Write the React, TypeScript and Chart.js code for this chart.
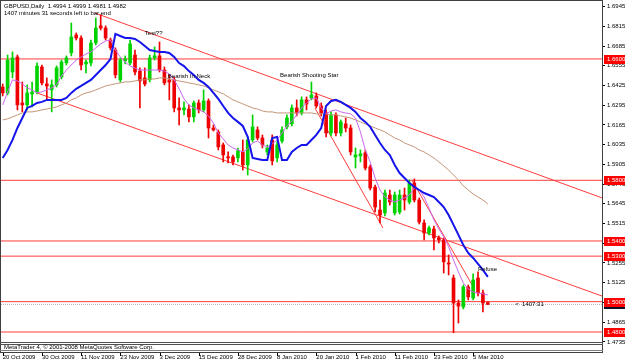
import React, { useEffect, useRef } from 'react';
import { Chart, registerables } from 'chart.js';
Chart.register(...registerables);

// ---- data (daily GBPUSD candles, one per bar index) ----
const opens = [
  1.6415, 1.6376, 1.6514, 1.6613, 1.6310, 1.6297, 1.6369, 1.6382, 1.6547, 1.6435,
  1.6396, 1.6429, 1.6481, 1.6574, 1.6640, 1.6758, 1.6738, 1.6567, 1.6574, 1.6705,
  1.6818, 1.6804, 1.6725, 1.6659, 1.6462, 1.6587, 1.6574, 1.6626, 1.6521, 1.6475,
  1.6462, 1.6607, 1.6620, 1.6527, 1.6462, 1.6462, 1.6277, 1.6264, 1.6270, 1.6218,
  1.6310, 1.6264, 1.6323, 1.6145, 1.6119, 1.6033, 1.5954, 1.5954, 1.5948, 1.5987,
  1.5901, 1.6066, 1.6132, 1.6079, 1.5987, 1.6066, 1.5948, 1.6059, 1.6152, 1.6172,
  1.6277, 1.6244, 1.6330, 1.6343, 1.6356, 1.6290, 1.6244, 1.6112, 1.6231, 1.6112,
  1.6172, 1.6145, 1.5954, 1.5961, 1.5981, 1.5888, 1.5755, 1.5604, 1.5585, 1.5703,
  1.5585, 1.5591, 1.5703, 1.5657, 1.5782, 1.5670, 1.5519, 1.5453, 1.5479, 1.5420,
  1.5407, 1.5255, 1.5156, 1.4991, 1.4965, 1.5097, 1.5024, 1.5156, 1.5057, 1.4994,
];
const highs = [
  1.6435, 1.6626, 1.6646, 1.6626, 1.6448, 1.6429, 1.6448, 1.6574, 1.6560, 1.6475,
  1.6462, 1.6554, 1.6593, 1.6620, 1.6837, 1.6771, 1.6752, 1.6593, 1.6725, 1.6870,
  1.6890, 1.6818, 1.6738, 1.6673, 1.6607, 1.6620, 1.6725, 1.6659, 1.6541, 1.6541,
  1.6626, 1.6679, 1.6712, 1.6547, 1.6495, 1.6481, 1.6343, 1.6317, 1.6297, 1.6323,
  1.6330, 1.6396, 1.6337, 1.6165, 1.6132, 1.6046, 1.5987, 1.5967, 1.6013, 1.6066,
  1.6086, 1.6231, 1.6152, 1.6099, 1.6033, 1.6099, 1.6053, 1.6152, 1.6231, 1.6297,
  1.6330, 1.6350, 1.6350, 1.6448, 1.6376, 1.6310, 1.6264, 1.6251, 1.6244, 1.6198,
  1.6211, 1.6165, 1.6013, 1.6000, 1.6000, 1.5901, 1.5769, 1.5670, 1.5736, 1.5736,
  1.5723, 1.5736, 1.5749, 1.5802, 1.5809, 1.5684, 1.5539, 1.5499, 1.5499, 1.5433,
  1.5420, 1.5308, 1.5176, 1.5011, 1.5110, 1.5110, 1.5183, 1.5196, 1.5077, 1.4999,
];
const lows = [
  1.6356, 1.6363, 1.6475, 1.6264, 1.6251, 1.6264, 1.6284, 1.6369, 1.6429, 1.6330,
  1.6251, 1.6415, 1.6468, 1.6560, 1.6620, 1.6725, 1.6527, 1.6508, 1.6554, 1.6692,
  1.6791, 1.6725, 1.6659, 1.6475, 1.6448, 1.6567, 1.6560, 1.6495, 1.6277, 1.6422,
  1.6448, 1.6593, 1.6514, 1.6429, 1.6330, 1.6251, 1.6165, 1.6231, 1.6185, 1.6185,
  1.6244, 1.6251, 1.6079, 1.6125, 1.6000, 1.5921, 1.5914, 1.5901, 1.5921, 1.5868,
  1.5835, 1.6053, 1.6066, 1.6013, 1.5967, 1.5901, 1.5921, 1.6046, 1.6138, 1.6158,
  1.6224, 1.6231, 1.6264, 1.6330, 1.6277, 1.6224, 1.6086, 1.6092, 1.6092, 1.6092,
  1.6119, 1.5967, 1.5881, 1.5921, 1.5868, 1.5736, 1.5591, 1.5519, 1.5565, 1.5637,
  1.5571, 1.5578, 1.5604, 1.5644, 1.5657, 1.5512, 1.5407, 1.5440, 1.5341, 1.5387,
  1.5189, 1.5176, 1.4795, 1.4859, 1.4952, 1.5011, 1.5011, 1.5037, 1.4932, 1.4981,
];
const closes = [
  1.6376, 1.6593, 1.6607, 1.6297, 1.6297, 1.6376, 1.6382, 1.6553, 1.6442, 1.6422,
  1.6429, 1.6541, 1.6580, 1.6607, 1.6745, 1.6738, 1.6560, 1.6580, 1.6705, 1.6804,
  1.6804, 1.6738, 1.6673, 1.6495, 1.6593, 1.6600, 1.6699, 1.6514, 1.6455, 1.6435,
  1.6607, 1.6620, 1.6527, 1.6442, 1.6448, 1.6277, 1.6264, 1.6277, 1.6218, 1.6310,
  1.6264, 1.6323, 1.6145, 1.6132, 1.6020, 1.5967, 1.5948, 1.5921, 1.5994, 1.5901,
  1.6066, 1.6152, 1.6079, 1.6033, 1.6013, 1.5928, 1.6033, 1.6132, 1.6211, 1.6277,
  1.6244, 1.6330, 1.6303, 1.6363, 1.6290, 1.6244, 1.6112, 1.6231, 1.6112, 1.6185,
  1.6145, 1.5987, 1.5967, 1.5974, 1.5881, 1.5749, 1.5624, 1.5571, 1.5716, 1.5657,
  1.5703, 1.5703, 1.5670, 1.5782, 1.5670, 1.5525, 1.5453, 1.5486, 1.5420, 1.5407,
  1.5262, 1.5248, 1.4991, 1.4971, 1.5097, 1.5031, 1.5143, 1.5057, 1.4991, 1.4982,
];

// ---- indicator lines ----
const blueMA = [
  1.5947, 1.6000, 1.6066, 1.6145, 1.6211, 1.6277, 1.6290, 1.6310, 1.6317, 1.6330,
  1.6330, 1.6330, 1.6330, 1.6343, 1.6376, 1.6403, 1.6422, 1.6442, 1.6462, 1.6494,
  1.6527, 1.6560, 1.6600, 1.6765, 1.6751, 1.6738, 1.6738, 1.6732, 1.6712, 1.6685,
  1.6659, 1.6652, 1.6646, 1.6646, 1.6639, 1.6613, 1.6573, 1.6553, 1.6520, 1.6494,
  1.6462, 1.6442, 1.6416, 1.6376, 1.6337, 1.6290, 1.6244, 1.6211, 1.6185, 1.6158,
  1.6086, 1.5947, 1.5941, 1.5934, 1.5934, 1.6079, 1.6086, 1.5934, 1.5934, 1.5987,
  1.6013, 1.6033, 1.6033, 1.6066, 1.6099, 1.6145, 1.6290, 1.6323, 1.6330, 1.6317,
  1.6297, 1.6277, 1.6251, 1.6211, 1.6185, 1.6152, 1.6099, 1.6046, 1.6000, 1.5967,
  1.5901, 1.5848, 1.5815, 1.5782, 1.5756, 1.5736, 1.5716, 1.5703, 1.5690, 1.5657,
  1.5624, 1.5571, 1.5506, 1.5440, 1.5374, 1.5321, 1.5288, 1.5249, 1.5209, 1.5163,
];
const violetMA = [
  1.6297, 1.6382, 1.6462, 1.6455, 1.6436, 1.6409, 1.6396, 1.6376, 1.6383, 1.6396,
  1.6409, 1.6429, 1.6488, 1.6527, 1.6560, 1.6593, 1.6613, 1.6633, 1.6646, 1.6673,
  1.6699, 1.6718, 1.6725, 1.6659, 1.6613, 1.6580, 1.6553, 1.6540, 1.6527, 1.6527,
  1.6527, 1.6527, 1.6527, 1.6520, 1.6501, 1.6462, 1.6403, 1.6337, 1.6297, 1.6277,
  1.6264, 1.6251, 1.6224, 1.6178, 1.6112, 1.6073, 1.6033, 1.6013, 1.6000, 1.5987,
  1.6007, 1.6046, 1.6059, 1.6033, 1.6020, 1.6040, 1.6066, 1.6112, 1.6158, 1.6191,
  1.6231, 1.6277, 1.6310, 1.6337, 1.6343, 1.6277, 1.6238, 1.6257, 1.6264, 1.6251,
  1.6244, 1.6238, 1.6211, 1.6119, 1.6000, 1.5921, 1.5815, 1.5736, 1.5690, 1.5670,
  1.5657, 1.5670, 1.5684, 1.5703, 1.5749, 1.5736, 1.5690, 1.5617, 1.5539, 1.5479,
  1.5427, 1.5361, 1.5275, 1.5196, 1.5123, 1.5084, 1.5064, 1.5057, 1.5051, 1.5044,
];
const brownMA = [
  1.6198, 1.6205, 1.6218, 1.6231, 1.6244, 1.6251, 1.6251, 1.6257, 1.6264, 1.6270,
  1.6277, 1.6284, 1.6297, 1.6310, 1.6330, 1.6343, 1.6363, 1.6376, 1.6383, 1.6396,
  1.6409, 1.6422, 1.6429, 1.6436, 1.6442, 1.6449, 1.6449, 1.6455, 1.6462, 1.6462,
  1.6468, 1.6468, 1.6475, 1.6475, 1.6468, 1.6462, 1.6455, 1.6449, 1.6442, 1.6436,
  1.6429, 1.6422, 1.6409, 1.6396, 1.6383, 1.6370, 1.6350, 1.6330, 1.6317, 1.6304,
  1.6290, 1.6277, 1.6270, 1.6257, 1.6251, 1.6251, 1.6244, 1.6244, 1.6244, 1.6244,
  1.6244, 1.6244, 1.6244, 1.6244, 1.6238, 1.6238, 1.6238, 1.6231, 1.6231, 1.6224,
  1.6218, 1.6211, 1.6198, 1.6185, 1.6172, 1.6158, 1.6145, 1.6132, 1.6119, 1.6099,
  1.6079, 1.6066, 1.6046, 1.6033, 1.6020, 1.6000, 1.5987, 1.5967, 1.5947, 1.5921,
  1.5895, 1.5868, 1.5835, 1.5802, 1.5763, 1.5736, 1.5710, 1.5690, 1.5670, 1.5644,
];

// ---- drawn objects (bar index, price) ----
const upperChannel = [[18.8, 1.6903], [122.3, 1.5684]];
const lowerChannel = [[7.0, 1.6376], [122.3, 1.5037]];
const steepLineA = [[63.7, 1.6277], [77.6, 1.5486]];
const steepLineB = [[83.5, 1.5802], [95.8, 1.5110]];
const levels = [1.66, 1.58, 1.54, 1.53, 1.5, 1.48];
const bidPrice = 1.4982;

const notes = [
  { text: 'Test??', bar: 29.0, price: 1.6771 },
  { text: 'Bearish In Neck', bar: 33.7, price: 1.6488 },
  { text: 'Bearish Shooting Star', bar: 56.6, price: 1.6494 },
  { text: 'Refuse', bar: 97.0, price: 1.5216 },
  { text: '<  1407:31', bar: 104.6, price: 1.4985 },
];

// ---- axes ----
const priceTicks = [
  1.4735, 1.4865, 1.4995, 1.5125, 1.5255, 1.5385, 1.5515, 1.5645, 1.5775,
  1.5905, 1.6035, 1.6165, 1.6295, 1.6425, 1.6555, 1.6685, 1.6815, 1.6945,
];
const dateTickBars = [0, 8, 16, 24, 32, 40, 48, 56, 64, 72, 80, 88, 96];
const dateLabels = [
  '20 Oct 2009', '30 Oct 2009', '11 Nov 2009', '23 Nov 2009', '3 Dec 2009',
  '15 Dec 2009', '28 Dec 2009', '8 Jan 2010', '20 Jan 2010', '1 Feb 2010',
  '11 Feb 2010', '23 Feb 2010', '5 Mar 2010',
];
const headerLine1 = 'GBPUSD,Daily  1.4994 1.4999 1.4981 1.4982';
const headerLine2 = '1407 minutes 31 seconds left to bar end';
const copyright = 'MetaTrader 4, © 2001-2008 MetaQuotes Software Corp.';

const X_MIN = -0.347;
const X_MAX = 122.3;
const Y_MIN = 1.4734;
const Y_MAX = 1.6982;

const BULL = '#00d200';
const BEAR = '#ee0000';
const LINE_RED = 'rgb(255,60,60)';
const FONT = '"Liberation Sans", Arial, sans-serif';

const seg = (pts: number[][]) => pts.map(([x, y]) => ({ x, y }));

const decor = {
  id: 'mt4decor',
  afterDraw(chart: any) {
    const { ctx, chartArea } = chart;
    const xs = chart.scales.x;
    const ys = chart.scales.y;
    ctx.save();
    ctx.font = `6px ${FONT}`;
    ctx.textBaseline = 'middle';
    ctx.textAlign = 'left';

    // notes on the chart
    ctx.fillStyle = '#000';
    for (const n of notes) {
      ctx.fillText(n.text, xs.getPixelForValue(n.bar), ys.getPixelForValue(n.price));
    }

    // header
    ctx.fillText(headerLine1, 4, 6);
    ctx.fillText(headerLine2, 4, 13);

    // frame
    ctx.fillStyle = '#404040';
    ctx.fillRect(0, 0, chartArea.right + 1, 1);
    ctx.fillRect(0, 0, 1, 353);
    ctx.fillRect(chartArea.right, 0, 1, 353);

    // sub-window strip
    ctx.fillStyle = '#ffffff';
    ctx.fillRect(1, chartArea.bottom, chartArea.right - 1, 10);
    ctx.fillStyle = '#505050';
    ctx.fillRect(0, chartArea.bottom, chartArea.right + 1, 1);
    ctx.fillRect(0, chartArea.bottom + 2, chartArea.right + 1, 1);
    ctx.fillStyle = '#808080';
    ctx.fillRect(0, chartArea.bottom + 8, chartArea.right + 1, 1);
    ctx.fillStyle = '#404040';
    ctx.fillRect(0, chartArea.bottom + 10, chartArea.right + 1, 1);
    ctx.fillStyle = '#000';
    ctx.fillText(copyright, 4, chartArea.bottom + 5.5);

    // date tick marks
    ctx.fillStyle = '#000';
    for (const b of dateTickBars) {
      const px = Math.round(xs.getPixelForValue(b));
      ctx.fillRect(px, chartArea.bottom + 11, 1, 3);
    }

    // price tags on the right axis
    const tag = (price: number, bg: string) => {
      const py = Math.round(ys.getPixelForValue(price));
      ctx.fillStyle = bg;
      ctx.fillRect(chartArea.right + 2, py - 4, 22, 9);
      ctx.fillStyle = '#fff';
      ctx.fillText(price.toFixed(4), chartArea.right + 5, py + 0.5);
    };
    tag(bidPrice, '#101028');
    for (const lv of levels) tag(lv, '#ff0000');
    ctx.restore();
  },
};

export default function App() {
  const ref = useRef<HTMLCanvasElement>(null);
  useEffect(() => {
    document.body.style.margin = '0';
    const candleColors = opens.map((o, i) => (closes[i] >= o ? BULL : BEAR));
    const lineDs = (data: any[], color: string, width: number, order: number, dash: number[] = []) => ({
      type: 'line' as const,
      data,
      borderColor: color,
      borderWidth: width,
      borderDash: dash,
      pointRadius: 0,
      tension: 0,
      fill: false,
      order,
    });
    const datasets: any[] = [
      ...levels.map((lv) => lineDs(seg([[X_MIN, lv], [X_MAX, lv]]), LINE_RED, 1, 20)),
      lineDs(seg([[X_MIN, bidPrice], [X_MAX, bidPrice]]), '#b0b0b0', 1, 19, [1, 1]),
      lineDs(seg(upperChannel), LINE_RED, 1, 18),
      lineDs(seg(lowerChannel), LINE_RED, 1, 18),
      lineDs(seg(steepLineA), LINE_RED, 1, 18),
      lineDs(seg(steepLineB), LINE_RED, 1, 18),
      {
        type: 'bar',
        data: opens.map((_, i) => ({ x: i, y: [lows[i], highs[i]] })),
        backgroundColor: candleColors,
        barThickness: 1,
        grouped: false,
        order: 10,
      },
      {
        type: 'bar',
        data: opens.map((o, i) => ({ x: i, y: [o, closes[i]] })),
        backgroundColor: candleColors,
        barThickness: 3,
        minBarLength: 1,
        grouped: false,
        order: 9,
      },
      lineDs(brownMA.map((v, i) => ({ x: i, y: v })), 'rgb(196,150,120)', 1, 3),
      lineDs(violetMA.map((v, i) => ({ x: i, y: v })), 'rgb(204,102,238)', 1, 2),
      lineDs(blueMA.map((v, i) => ({ x: i, y: v })), 'rgb(20,20,235)', 2, 1),
    ];

    const chart = new Chart(ref.current as HTMLCanvasElement, {
      type: 'line',
      data: { datasets },
      options: {
        responsive: false,
        animation: false,
        devicePixelRatio: 1,
        events: [],
        layout: { padding: { left: 1, top: 1, right: 0, bottom: 0 } },
        plugins: { legend: { display: false }, tooltip: { enabled: false } },
        scales: {
          x: {
            type: 'linear',
            min: X_MIN,
            max: X_MAX,
            offset: false,
            grid: { display: false, drawTicks: false, offset: false },
            border: { display: false },
            afterBuildTicks: (s: any) => {
              s.ticks = dateTickBars.map((v) => ({ value: v }));
            },
            afterFit: (s: any) => {
              s.height = 22;
              s.paddingLeft = 0;
              s.paddingRight = 0;
            },
            ticks: {
              autoSkip: false,
              maxRotation: 0,
              minRotation: 0,
              align: 'start',
              padding: 12,
              color: '#000',
              font: { family: FONT, size: 6 },
              callback: (_v: any, idx: number) => dateLabels[idx],
            },
          },
          y: {
            type: 'linear',
            position: 'right',
            min: Y_MIN,
            max: Y_MAX,
            beginAtZero: false,
            grid: { drawOnChartArea: false, drawTicks: true, tickLength: 3, color: '#000' },
            border: { display: true, color: '#404040' },
            afterBuildTicks: (s: any) => {
              s.ticks = priceTicks.map((v) => ({ value: v }));
            },
            afterFit: (s: any) => {
              s.width = 23;
              s.paddingTop = 0;
              s.paddingBottom = 0;
            },
            ticks: {
              autoSkip: false,
              padding: 2,
              color: '#000',
              font: { family: FONT, size: 6 },
              callback: (v: any) => Number(v).toFixed(4),
            },
          },
        },
      },
      plugins: [decor],
    } as any);
    return () => chart.destroy();
  }, []);
  return (
    <div style={{ position: 'absolute', left: 0, top: 0, width: 625, height: 364, background: '#fff' }}>
      <canvas ref={ref} width={625} height={364} style={{ display: 'block', width: 625, height: 364 }} />
    </div>
  );
}
